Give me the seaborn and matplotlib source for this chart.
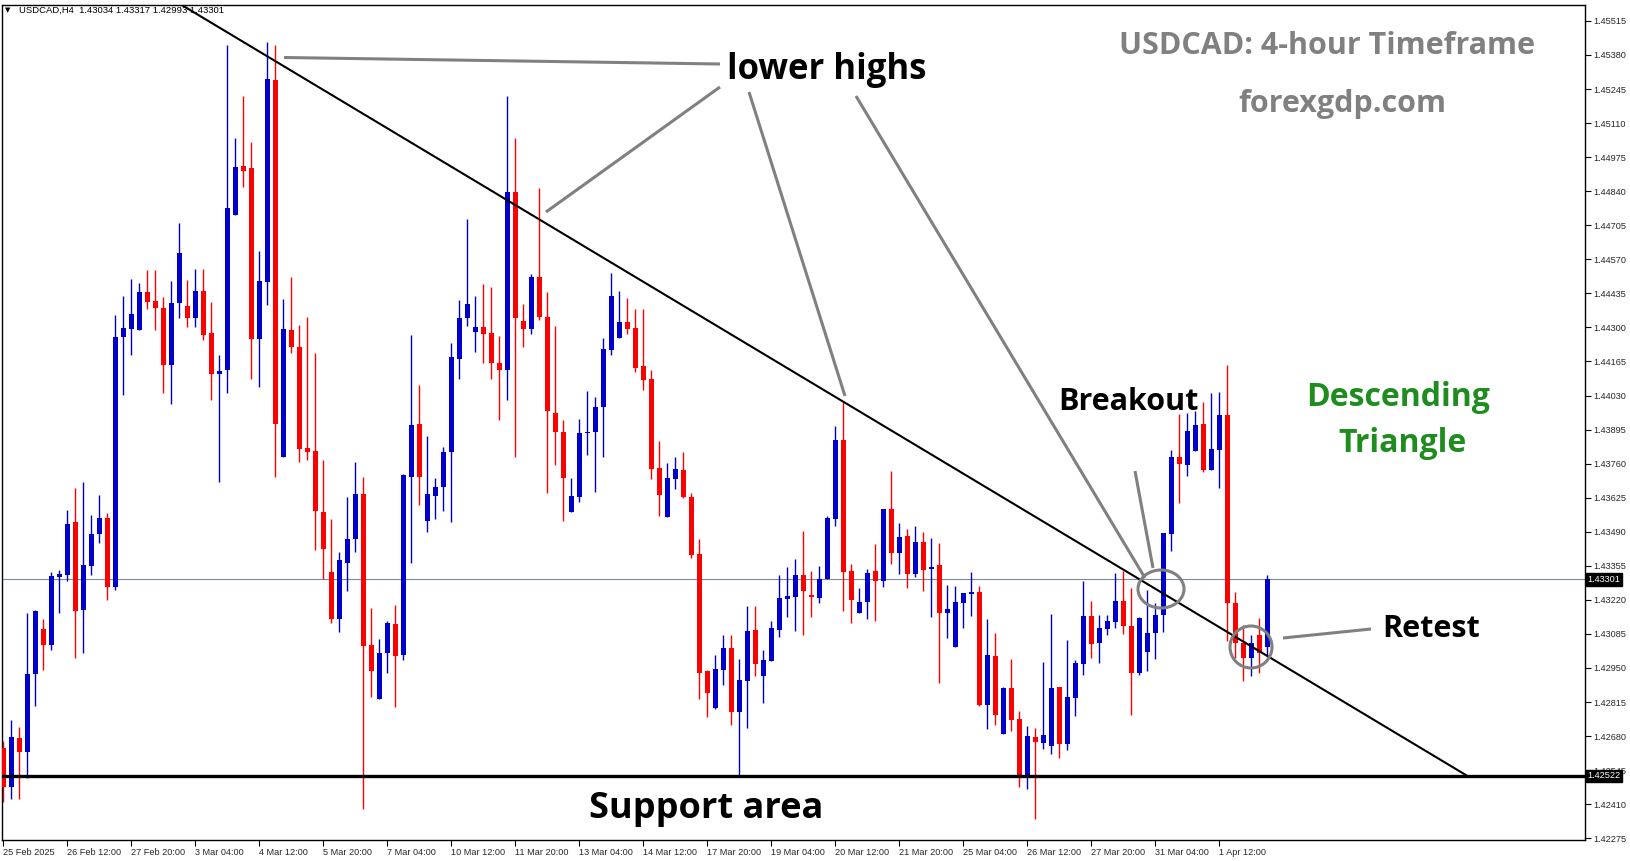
import numpy as np
import pandas as pd
import matplotlib
matplotlib.use("Agg")
import matplotlib.pyplot as plt
from matplotlib.patches import Ellipse
from matplotlib.transforms import Affine2D, blended_transform_factory
import seaborn as sns

# USDCAD H4 candles, 25 Feb 2025 04:00 -> 2 Apr 2025
open_px = [1.42633, 1.42480, 1.42672, 1.42617, 1.42927, 1.43105, 1.43040, 1.43309, 1.43317, 1.43528,
           1.43180, 1.43354, 1.43481, 1.43544, 1.43271, 1.44262, 1.44292, 1.44288, 1.44442, 1.44406,
           1.44375, 1.44151, 1.44398, 1.44383, 1.44339, 1.44446, 1.44276, 1.44114, 1.44133, 1.44744,
           1.44938, 1.44930, 1.44254, 1.44481, 1.45280, 1.43787, 1.44288, 1.44224, 1.43821, 1.43809,
           1.43568, 1.43329, 1.43145, 1.43368, 1.43461, 1.43639, 1.43042, 1.42827, 1.43008, 1.43123,
           1.43000, 1.43708, 1.43918, 1.43534, 1.43633, 1.43667, 1.43805, 1.44175, 1.44339, 1.44282,
           1.44303, 1.44276, 1.44159, 1.44133, 1.44835, 1.44327, 1.44292, 1.44501, 1.44343, 1.43961,
           1.43886, 1.43570, 1.43629, 1.43880, 1.43886, 1.43983, 1.44212, 1.44256, 1.44323, 1.44296,
           1.44145, 1.44094, 1.43742, 1.43548, 1.43698, 1.43734, 1.43627, 1.43400, 1.42939, 1.42793,
           1.42943, 1.43030, 1.42777, 1.42900, 1.43099, 1.42919, 1.42979, 1.43099, 1.43222, 1.43230,
           1.43317, 1.43238, 1.43226, 1.43301, 1.43540, 1.43855, 1.43333, 1.43167, 1.43210, 1.43333,
           1.43293, 1.43580, 1.43404, 1.43473, 1.43321, 1.43449, 1.43341, 1.43360, 1.43169, 1.43032,
           1.43206, 1.43242, 1.43250, 1.42805, 1.42998, 1.42688, 1.42872, 1.42747, 1.42512, 1.42676,
           1.42652, 1.42641, 1.42876, 1.42649, 1.42832, 1.42967, 1.43155, 1.43048, 1.43103, 1.43131,
           1.43214, 1.43115, 1.42931, 1.43012, 1.43087, 1.43159, 1.43481, 1.43785, 1.43754, 1.43809,
           1.43918, 1.43734, 1.43813, 1.43952, 1.43206, 1.43050, 1.42990, 1.43080, 1.43034]
high_px = [1.42660, 1.42743, 1.42716, 1.43167, 1.43178, 1.43143, 1.43329, 1.43337, 1.43576, 1.43663,
           1.43687, 1.43556, 1.43635, 1.43564, 1.44351, 1.44426, 1.44493, 1.44477, 1.44529, 1.44529,
           1.44422, 1.44485, 1.44715, 1.44489, 1.44533, 1.44533, 1.44402, 1.44191, 1.45421, 1.45049,
           1.45217, 1.45035, 1.44602, 1.45432, 1.45421, 1.44414, 1.44501, 1.44311, 1.44343, 1.44199,
           1.43774, 1.43540, 1.43408, 1.43627, 1.43766, 1.43706, 1.43186, 1.43064, 1.43137, 1.43198,
           1.43718, 1.44268, 1.44072, 1.43870, 1.43704, 1.43827, 1.44240, 1.44410, 1.44729, 1.44426,
           1.44474, 1.44462, 1.44264, 1.45217, 1.45049, 1.44394, 1.44513, 1.44853, 1.44442, 1.44307,
           1.43934, 1.43702, 1.43938, 1.44048, 1.44025, 1.44256, 1.44517, 1.44446, 1.44418, 1.44371,
           1.44371, 1.44133, 1.43851, 1.43762, 1.43785, 1.43805, 1.43643, 1.43461, 1.42943, 1.43002,
           1.43082, 1.43082, 1.42987, 1.43194, 1.43194, 1.43022, 1.43135, 1.43317, 1.43352, 1.43380,
           1.43493, 1.43333, 1.43356, 1.43552, 1.43910, 1.44009, 1.43364, 1.43265, 1.43341, 1.43441,
           1.43580, 1.43730, 1.43524, 1.43501, 1.43513, 1.43489, 1.43465, 1.43445, 1.43277, 1.43273,
           1.43246, 1.43329, 1.43273, 1.43143, 1.43087, 1.42876, 1.42987, 1.42781, 1.42720, 1.42712,
           1.42975, 1.43163, 1.42876, 1.43060, 1.42983, 1.43293, 1.43214, 1.43159, 1.43159, 1.43325,
           1.43333, 1.43265, 1.43151, 1.43261, 1.43206, 1.43485, 1.43813, 1.43956, 1.43959, 1.43967,
           1.44003, 1.44039, 1.44042, 1.44151, 1.43250, 1.43120, 1.43080, 1.43150, 1.43317]
low_px = [1.42420, 1.42430, 1.42430, 1.42512, 1.42799, 1.42941, 1.43020, 1.43167, 1.43293, 1.42991,
          1.43010, 1.43317, 1.43447, 1.43218, 1.43259, 1.44031, 1.44189, 1.44288, 1.44371, 1.44288,
          1.44039, 1.43995, 1.44339, 1.44303, 1.44303, 1.44252, 1.44011, 1.43689, 1.44039, 1.44744,
          1.44855, 1.44096, 1.44064, 1.44390, 1.43708, 1.43787, 1.44197, 1.43768, 1.43776, 1.43418,
          1.43301, 1.43129, 1.43093, 1.43256, 1.43408, 1.42390, 1.42834, 1.42827, 1.42929, 1.42795,
          1.42983, 1.43366, 1.43594, 1.43487, 1.43542, 1.43574, 1.43530, 1.44094, 1.44307, 1.44203,
          1.44159, 1.44096, 1.43934, 1.44013, 1.43787, 1.44224, 1.44272, 1.44331, 1.43645, 1.43756,
          1.43534, 1.43570, 1.43606, 1.43795, 1.43649, 1.43787, 1.44189, 1.44256, 1.44272, 1.44122,
          1.44050, 1.43698, 1.43552, 1.43548, 1.43659, 1.43623, 1.43384, 1.42825, 1.42755, 1.42789,
          1.42884, 1.42722, 1.42522, 1.42710, 1.42919, 1.42811, 1.42979, 1.43072, 1.43151, 1.43095,
          1.43080, 1.43151, 1.43206, 1.43301, 1.43513, 1.43174, 1.43127, 1.43167, 1.43143, 1.43135,
          1.43269, 1.43364, 1.43321, 1.43265, 1.43309, 1.43254, 1.43151, 1.42892, 1.43068, 1.43032,
          1.43107, 1.43155, 1.42801, 1.42708, 1.42722, 1.42688, 1.42700, 1.42480, 1.42470, 1.42353,
          1.42629, 1.42609, 1.42593, 1.42625, 1.42761, 1.42923, 1.42991, 1.42971, 1.43080, 1.43107,
          1.43084, 1.42763, 1.42923, 1.42939, 1.42987, 1.43091, 1.43412, 1.43603, 1.43710, 1.43809,
          1.43726, 1.43734, 1.43663, 1.43056, 1.42990, 1.42900, 1.42920, 1.42930, 1.42993]
close_px = [1.42480, 1.42676, 1.42617, 1.42927, 1.43174, 1.43040, 1.43313, 1.43321, 1.43520, 1.43176,
            1.43360, 1.43481, 1.43544, 1.43271, 1.44262, 1.44296, 1.44355, 1.44442, 1.44402, 1.44375,
            1.44151, 1.44398, 1.44596, 1.44339, 1.44446, 1.44268, 1.44114, 1.44129, 1.44772, 1.44934,
            1.44918, 1.44254, 1.44485, 1.45284, 1.43916, 1.44292, 1.44222, 1.43817, 1.43807, 1.43574,
            1.43422, 1.43145, 1.43376, 1.43461, 1.43639, 1.43036, 1.42939, 1.43010, 1.43127, 1.42997,
            1.43714, 1.43914, 1.43708, 1.43639, 1.43667, 1.43805, 1.44183, 1.44339, 1.44394, 1.44303,
            1.44272, 1.44159, 1.44133, 1.44835, 1.44339, 1.44292, 1.44501, 1.44343, 1.43967, 1.43886,
            1.43704, 1.43631, 1.43882, 1.43886, 1.43985, 1.44216, 1.44426, 1.44323, 1.44292, 1.44141,
            1.44090, 1.43738, 1.43635, 1.43702, 1.43738, 1.43627, 1.43396, 1.42931, 1.42852, 1.42947,
            1.43030, 1.42777, 1.42904, 1.43095, 1.42967, 1.42983, 1.43107, 1.43226, 1.43234, 1.43317,
            1.43257, 1.43230, 1.43301, 1.43544, 1.43855, 1.43329, 1.43218, 1.43210, 1.43325, 1.43293,
            1.43580, 1.43404, 1.43469, 1.43321, 1.43449, 1.43337, 1.43352, 1.43169, 1.43184, 1.43210,
            1.43246, 1.43250, 1.42805, 1.43002, 1.42763, 1.42872, 1.42743, 1.42512, 1.42680, 1.42656,
            1.42684, 1.42872, 1.42649, 1.42836, 1.42971, 1.43155, 1.43044, 1.43107, 1.43135, 1.43214,
            1.43115, 1.42931, 1.43147, 1.43087, 1.43159, 1.43485, 1.43785, 1.43758, 1.43888, 1.43914,
            1.43734, 1.43817, 1.43952, 1.43206, 1.43050, 1.42990, 1.43050, 1.43010, 1.43301]

date_labels = ["25 Feb 2025", "26 Feb 12:00", "27 Feb 20:00", "3 Mar 04:00", "4 Mar 12:00",
               "5 Mar 20:00", "7 Mar 04:00", "10 Mar 12:00", "11 Mar 20:00", "13 Mar 04:00",
               "14 Mar 12:00", "17 Mar 20:00", "19 Mar 04:00", "20 Mar 12:00", "21 Mar 20:00",
               "25 Mar 04:00", "26 Mar 12:00", "27 Mar 20:00", "31 Mar 04:00", "1 Apr 12:00"]
price_ticks = [1.45515, 1.45380, 1.45245, 1.45110, 1.44975, 1.44840, 1.44705, 1.44570, 1.44435,
               1.44300, 1.44165, 1.44030, 1.43895, 1.43760, 1.43625, 1.43490, 1.43355, 1.43220,
               1.43085, 1.42950, 1.42815, 1.42680, 1.42545, 1.42410, 1.42275]
support_level = 1.42522
last_price = 1.43301
header = "USDCAD,H4  1.43034 1.43317 1.42993 1.43301"

sns.set_style("white")
plt.rcParams["font.family"] = ["Liberation Sans", "DejaVu Sans"]

W, H = 1631, 861
fig = plt.figure(figsize=(W / 100, H / 100), dpi=100)
ax = fig.add_axes([2 / W, 21 / H, 1583 / W, 835 / H])

df = pd.DataFrame({"o": open_px, "h": high_px, "l": low_px, "c": close_px})
df["idx"] = np.arange(len(df))
colors = np.where(df["c"] >= df["o"], "#0000CD", "#FF0000")

ax.vlines(df["idx"], df["l"], df["h"], colors=colors, lw=1.0, zorder=2)
body_lo = np.minimum(df["o"], df["c"])
body_h = np.maximum((df["c"] - df["o"]).abs(), 0.00004)
ax.bar(df["idx"], body_h, bottom=body_lo, width=0.62, color=colors, linewidth=0, zorder=3)

ax.axhline(last_price, color="#7a8a9a", lw=0.8, zorder=1)
ax.axhline(support_level, color="black", lw=2.4, zorder=4)

ax.set_xlim(-0.16, 197.7)
ax.set_ylim(1.42268, 1.45578)

ax.set_xticks(np.arange(len(date_labels)) * 8)
ax.set_xticklabels(date_labels, ha="left", fontsize=6.6)
ax.yaxis.tick_right()
ax.set_yticks(price_ticks)
ax.set_yticklabels([f"{p:.5f}" for p in price_ticks], fontsize=6.6)
ax.tick_params(axis="both", direction="out", length=4, width=0.8, color="black",
               bottom=True, right=True, left=False, pad=2)
for s in ax.spines.values():
    s.set_color("black")
    s.set_linewidth(1.0)
ax.grid(False)

# price boxes on the right scale
yb = blended_transform_factory(ax.transAxes, ax.transData)
for p in (last_price, support_level):
    ax.text(1.0015, p, f"{p:.5f}", transform=yb, fontsize=6.6, color="white", ha="left", va="center",
            bbox=dict(boxstyle="square,pad=0.2", fc="black", ec="black"), zorder=10, clip_on=False)

# reference pixel coordinates (origin top-left) for drawings
T = Affine2D().scale(1 / W, -1 / H).translate(0, 1) + fig.transFigure

def seg(x0, y0, x1, y1, color="#808080", lw=2.2):
    ax.plot([x0, x1], [y0, y1], color=color, lw=lw, transform=T, solid_capstyle="butt", zorder=6)

# descending trend line
seg(181.7, 5, 1467, 775.7, color="black", lw=1.5)

# pointers
seg(284, 57.5, 720, 64)
seg(546, 212, 720, 87)
seg(749, 92, 845, 396)
seg(856, 96, 1145, 578)
seg(1135, 471, 1153, 568)
seg(1283, 638, 1371, 629)

for cx, cy, w, h in [(1161, 589, 46, 38), (1251, 647, 42, 42)]:
    ax.add_patch(Ellipse((cx, cy), w, h, transform=T, fill=False, ec="#808080", lw=2.2, zorder=7))

bold = dict(family=["Open Sans", "DejaVu Sans"], weight="bold", ha="center", va="center", transform=T)
fig.text(827, 70, "lower highs", fontsize=25, color="black", **bold)
fig.text(1327, 46, "USDCAD: 4-hour Timeframe", fontsize=22, color="#808080", **bold)
fig.text(1342, 104, "forexgdp.com", fontsize=22, color="#808080", **bold)
fig.text(1128, 402, "Breakout", fontsize=22, color="black", **bold)
fig.text(1398, 398, "Descending", fontsize=23, color="#1f8c1f", **bold)
fig.text(1403, 443, "Triangle", fontsize=23, color="#1f8c1f", **bold)
fig.text(1431, 629, "Retest", fontsize=22, color="black", **bold)
fig.text(706, 809, "Support area", fontsize=26, color="black", **bold)

fig.text(5, 10, "\u25bc", fontsize=5, color="black", ha="left", va="center", transform=T,
         family=["DejaVu Sans"])
fig.text(19, 10, header, fontsize=6.8, color="black", ha="left", va="center", transform=T)

fig.savefig("out.png", dpi=100, facecolor="white")
